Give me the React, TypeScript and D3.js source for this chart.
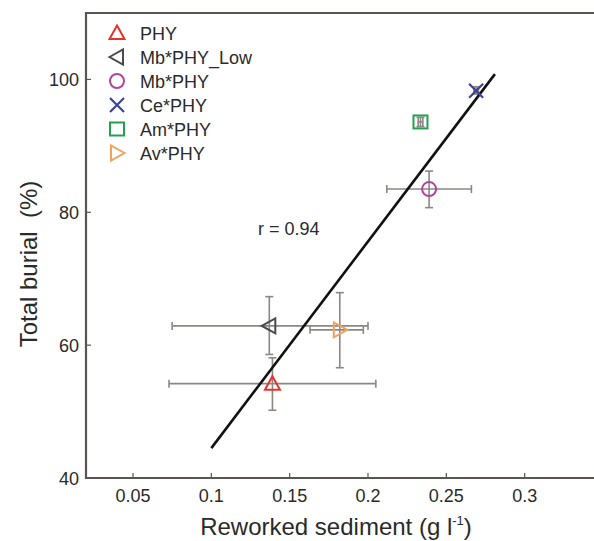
import React from 'react';
import * as d3 from 'd3';

// series
const names = ['PHY', 'Mb*PHY_Low', 'Mb*PHY', 'Ce*PHY', 'Am*PHY', 'Av*PHY'];
const shapes = ['triUp', 'triLeft', 'circle', 'cross', 'square', 'triRight'];
const colors = ['#e6332a', '#4a4a4a', '#b2449e', '#3c4595', '#23a050', '#f0a35a'];
const xMean = [0.139, 0.137, 0.239, 0.269, 0.2335, 0.182];
const yMean = [54.2, 62.9, 83.5, 98.3, 93.6, 62.3];
const xLow = [0.073, 0.075, 0.212, 0.2675, 0.232, 0.163];
const xHigh = [0.205, 0.2, 0.266, 0.2705, 0.235, 0.197];
const yLow = [50.2, 58.6, 80.7, 97.8, 92.9, 56.6];
const yHigh = [58.1, 67.3, 86.2, 98.9, 94.3, 67.9];

// regression line end points
const fitX = [0.1, 0.281];
const fitY = [44.5, 100.8];

const xTicks = [0.05, 0.1, 0.15, 0.2, 0.25, 0.3];
const yTicks = [40, 60, 80, 100];

const W = 594;
const H = 541;
const LEFT = 86;
const TOP = 13;
const BOTTOM = 478;
const RIGHT = 603;
const FONT = '"Liberation Sans", Arial, Helvetica, sans-serif';
const AXIS_COLOR = '#5a5452';

function marker(shape: string, cx: number, cy: number, color: string) {
  const s = 7.5;
  const common = { fill: 'none', stroke: color, strokeWidth: 2 };
  switch (shape) {
    case 'triUp':
      return <path d={`M${cx},${cy - s}L${cx + s},${cy + s * 0.8}L${cx - s},${cy + s * 0.8}Z`} {...common} />;
    case 'triLeft':
      return <path d={`M${cx - s},${cy}L${cx + s * 0.8},${cy - s}L${cx + s * 0.8},${cy + s}Z`} {...common} />;
    case 'triRight':
      return <path d={`M${cx + s},${cy}L${cx - s * 0.8},${cy - s}L${cx - s * 0.8},${cy + s}Z`} {...common} />;
    case 'circle':
      return <circle cx={cx} cy={cy} r={7} {...common} />;
    case 'square':
      return <rect x={cx - 7} y={cy - 6.5} width={14} height={13} {...common} />;
    case 'cross':
      return <path d={`M${cx - 7},${cy - 7}L${cx + 7},${cy + 7}M${cx - 7},${cy + 7}L${cx + 7},${cy - 7}`} {...common} strokeWidth={2.2} />;
  }
  return null;
}

export default function App() {
  const x = d3.scaleLinear().domain([0.02, 0.35]).range([LEFT, RIGHT]);
  const y = d3.scaleLinear().domain([40, 110]).range([BOTTOM, TOP]);
  const fitLine = d3.line<number>().x((d) => x(d)).y((_, i) => y(fitY[i]));
  const cap = 4;

  return (
    <svg width={W} height={H} style={{ position: 'absolute', left: 0, top: 0, background: '#fff' }} fontFamily={FONT}>
      {/* error bars */}
      {names.map((n, i) => (
        <g key={'eb' + n} stroke="#8c8784" strokeWidth={1.6} fill="none">
          <line x1={x(xLow[i])} x2={x(xHigh[i])} y1={y(yMean[i])} y2={y(yMean[i])} />
          <line x1={x(xLow[i])} x2={x(xLow[i])} y1={y(yMean[i]) - cap} y2={y(yMean[i]) + cap} />
          <line x1={x(xHigh[i])} x2={x(xHigh[i])} y1={y(yMean[i]) - cap} y2={y(yMean[i]) + cap} />
          <line x1={x(xMean[i])} x2={x(xMean[i])} y1={y(yLow[i])} y2={y(yHigh[i])} />
          <line x1={x(xMean[i]) - cap} x2={x(xMean[i]) + cap} y1={y(yLow[i])} y2={y(yLow[i])} />
          <line x1={x(xMean[i]) - cap} x2={x(xMean[i]) + cap} y1={y(yHigh[i])} y2={y(yHigh[i])} />
        </g>
      ))}

      {/* fit */}
      <path d={fitLine(fitX) || ''} stroke="#111" strokeWidth={2.6} fill="none" />

      {/* markers */}
      {names.map((n, i) => (
        <g key={'m' + n}>{marker(shapes[i], x(xMean[i]), y(yMean[i]), colors[i])}</g>
      ))}

      {/* axes frame */}
      <path d={`M${RIGHT},${TOP}H${LEFT}V${BOTTOM}H${RIGHT}`} stroke={AXIS_COLOR} strokeWidth={2.2} fill="none" />
      {xTicks.map((t) => (
        <g key={'xt' + t}>
          <line x1={x(t)} x2={x(t)} y1={BOTTOM} y2={BOTTOM - 5} stroke={AXIS_COLOR} strokeWidth={1.2} />
          <text x={x(t)} y={502} textAnchor="middle" fontSize={18} fill="#2a2a2a">
            {t}
          </text>
        </g>
      ))}
      {yTicks.map((t) => (
        <g key={'yt' + t}>
          <line x1={LEFT} x2={LEFT + 5} y1={y(t)} y2={y(t)} stroke={AXIS_COLOR} strokeWidth={1.2} />
          <text x={79} y={y(t) + 7} textAnchor="end" fontSize={18} fill="#2a2a2a">
            {t}
          </text>
        </g>
      ))}

      {/* axis titles */}
      <text x={336} y={535} textAnchor="middle" fontSize={24} fill="#2a2a2a">
        Reworked sediment (g l<tspan dy={-10} fontSize={13}>-1</tspan>
        <tspan dy={10}>)</tspan>
      </text>
      <text transform="translate(37,264) rotate(-90)" textAnchor="middle" fontSize={24} fill="#2a2a2a" style={{ whiteSpace: 'pre' }}>
        {'Total burial  (%)'}
      </text>

      {/* correlation */}
      <text x={258} y={235} fontSize={18} fill="#2a2a2a">
        r = 0.94
      </text>

      {/* legend */}
      {names.map((n, i) => {
        const cy = 33 + i * 24;
        return (
          <g key={'lg' + n}>
            {marker(shapes[i], 117, cy, colors[i])}
            <text x={140} y={cy + 7} fontSize={18} fill="#2a2a2a">
              {n}
            </text>
          </g>
        );
      })}
    </svg>
  );
}
